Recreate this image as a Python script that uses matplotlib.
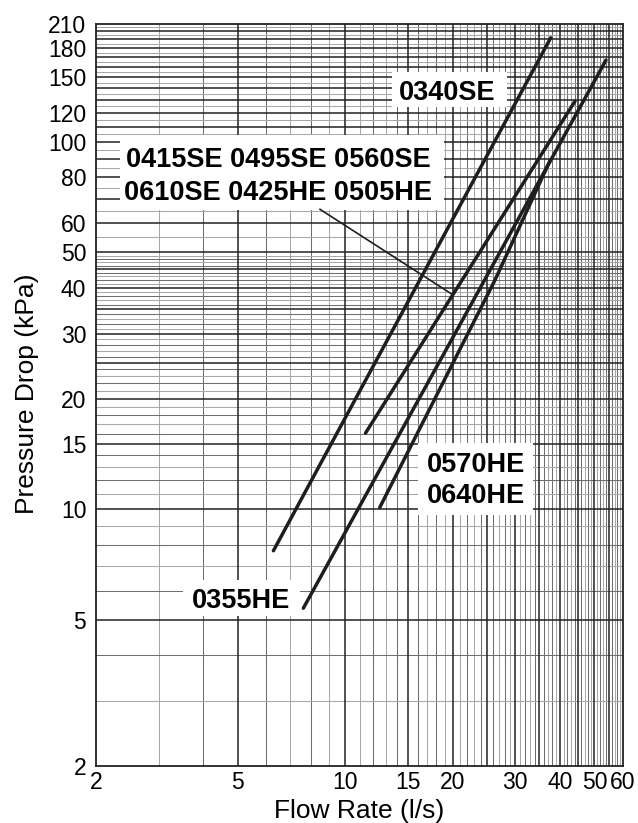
import numpy as np
import matplotlib.pyplot as plt
from matplotlib.patches import Rectangle
from matplotlib.ticker import NullLocator

plt.rcParams['font.family'] = ['Liberation Sans', 'DejaVu Sans']

# flow rate (l/s) vs pressure drop (kPa)
flow_0340se = [6.29, 37.7]
dp_0340se = [7.7, 192]
flow_0415se = [11.4, 44.1]
dp_0415se = [16.1, 129]
flow_0355he = [7.63, 53.9]
dp_0355he = [5.37, 167]
flow_0570he = [12.5, 26.3, 37.5]
dp_0570he = [10.1, 42.0, 88.7]

# leader from the group label to its curve
leader_flow = [8.5, 19.9]
leader_dp = [65.5, 38.5]

x_ticks = [2, 5, 10, 15, 20, 30, 40, 50, 60]
y_ticks = [2, 5, 10, 15, 20, 30, 40, 50, 60, 80, 100, 120, 150, 180, 210]

# log paper rulings
x_major = list(range(5, 60, 5))
x_minor = [v for v in range(3, 60) if v % 5]
y_major = list(range(5, 51, 5)) + list(range(60, 210, 10))
y_minor = [3, 4, 6, 7, 8, 9] + [v for v in range(11, 50) if v % 5] + list(range(55, 210, 10))

fig = plt.figure(figsize=(6.38, 8.23), dpi=100)
ax = fig.add_axes([0.1505, 0.0696, 0.8254, 0.9018])
ax.set_xscale('log')
ax.set_yscale('log')
ax.set_xlim(2, 60)
ax.set_ylim(2, 210)

for v in x_minor:
    ax.axvline(v, color='#6e6e6e' if v % 2 == 0 else '#a8a8a8', lw=0.75, zorder=1)
for v in y_minor:
    ax.axhline(v, color='#6e6e6e' if v % 2 == 0 else '#a8a8a8', lw=0.75, zorder=1)
for v in x_major:
    ax.axvline(v, color='#222222', lw=1.1, zorder=1.5)
for v in y_major:
    ax.axhline(v, color='#222222', lw=1.1, zorder=1.5)

# white label boxes (axes fraction)
boxes = [(0.5615, 0.8879, 0.2184, 0.0472),
         (0.0456, 0.7488, 0.6152, 0.1010),
         (0.6120, 0.3378, 0.2184, 0.0966),
         (0.1658, 0.2017, 0.2216, 0.0485)]
for bx, by, bw, bh in boxes:
    ax.add_patch(Rectangle((bx, by), bw, bh, transform=ax.transAxes,
                           facecolor='white', edgecolor='none', zorder=2))

lw = 2.5
ax.plot(flow_0340se, dp_0340se, color='#1e1e1e', lw=lw, solid_capstyle='round', zorder=3)
ax.plot(flow_0415se, dp_0415se, color='#1e1e1e', lw=lw, solid_capstyle='round', zorder=3)
ax.plot(flow_0355he, dp_0355he, color='#1e1e1e', lw=lw, solid_capstyle='round', zorder=3)
ax.plot(flow_0570he, dp_0570he, color='#1e1e1e', lw=lw, solid_capstyle='round', zorder=3)
ax.plot(leader_flow, leader_dp, color='#1e1e1e', lw=1.2, zorder=3)

lab = dict(fontsize=19.5, fontweight='bold', color='black', transform=ax.transAxes, zorder=4, va='baseline')
ax.text(0.6669, 0.8969, '0340SE', ha='center', **lab)
ax.text(0.3462, 0.8071, '0415SE 0495SE 0560SE', ha='center', **lab)
ax.text(0.3462, 0.7622, '0610SE 0425HE 0505HE', ha='center', **lab)
ax.text(0.6280, 0.3961, '0570HE', ha='left', **lab)
ax.text(0.6280, 0.3535, '0640HE', ha='left', **lab)
ax.text(0.2754, 0.2129, '0355HE', ha='center', **lab)

ax.xaxis.set_minor_locator(NullLocator())
ax.yaxis.set_minor_locator(NullLocator())
ax.set_xticks(x_ticks, labels=[str(v) for v in x_ticks])
ax.set_yticks(y_ticks, labels=[str(v) for v in y_ticks])
ax.tick_params(axis='both', length=0, labelsize=16.5, colors='black')
ax.tick_params(axis='x', pad=4)
ax.tick_params(axis='y', pad=7)
for s in ax.spines.values():
    s.set_color('#222222')
    s.set_linewidth(1.3)
    s.set_zorder(5)

fig.text(0.563, 0.0057, 'Flow Rate (l/s)', fontsize=19, ha='center', va='baseline')
fig.text(0.043, 0.521, 'Pressure Drop (kPa)', fontsize=19, rotation=90, ha='center', va='center')

fig.savefig('out.png', dpi=100, facecolor='white')
